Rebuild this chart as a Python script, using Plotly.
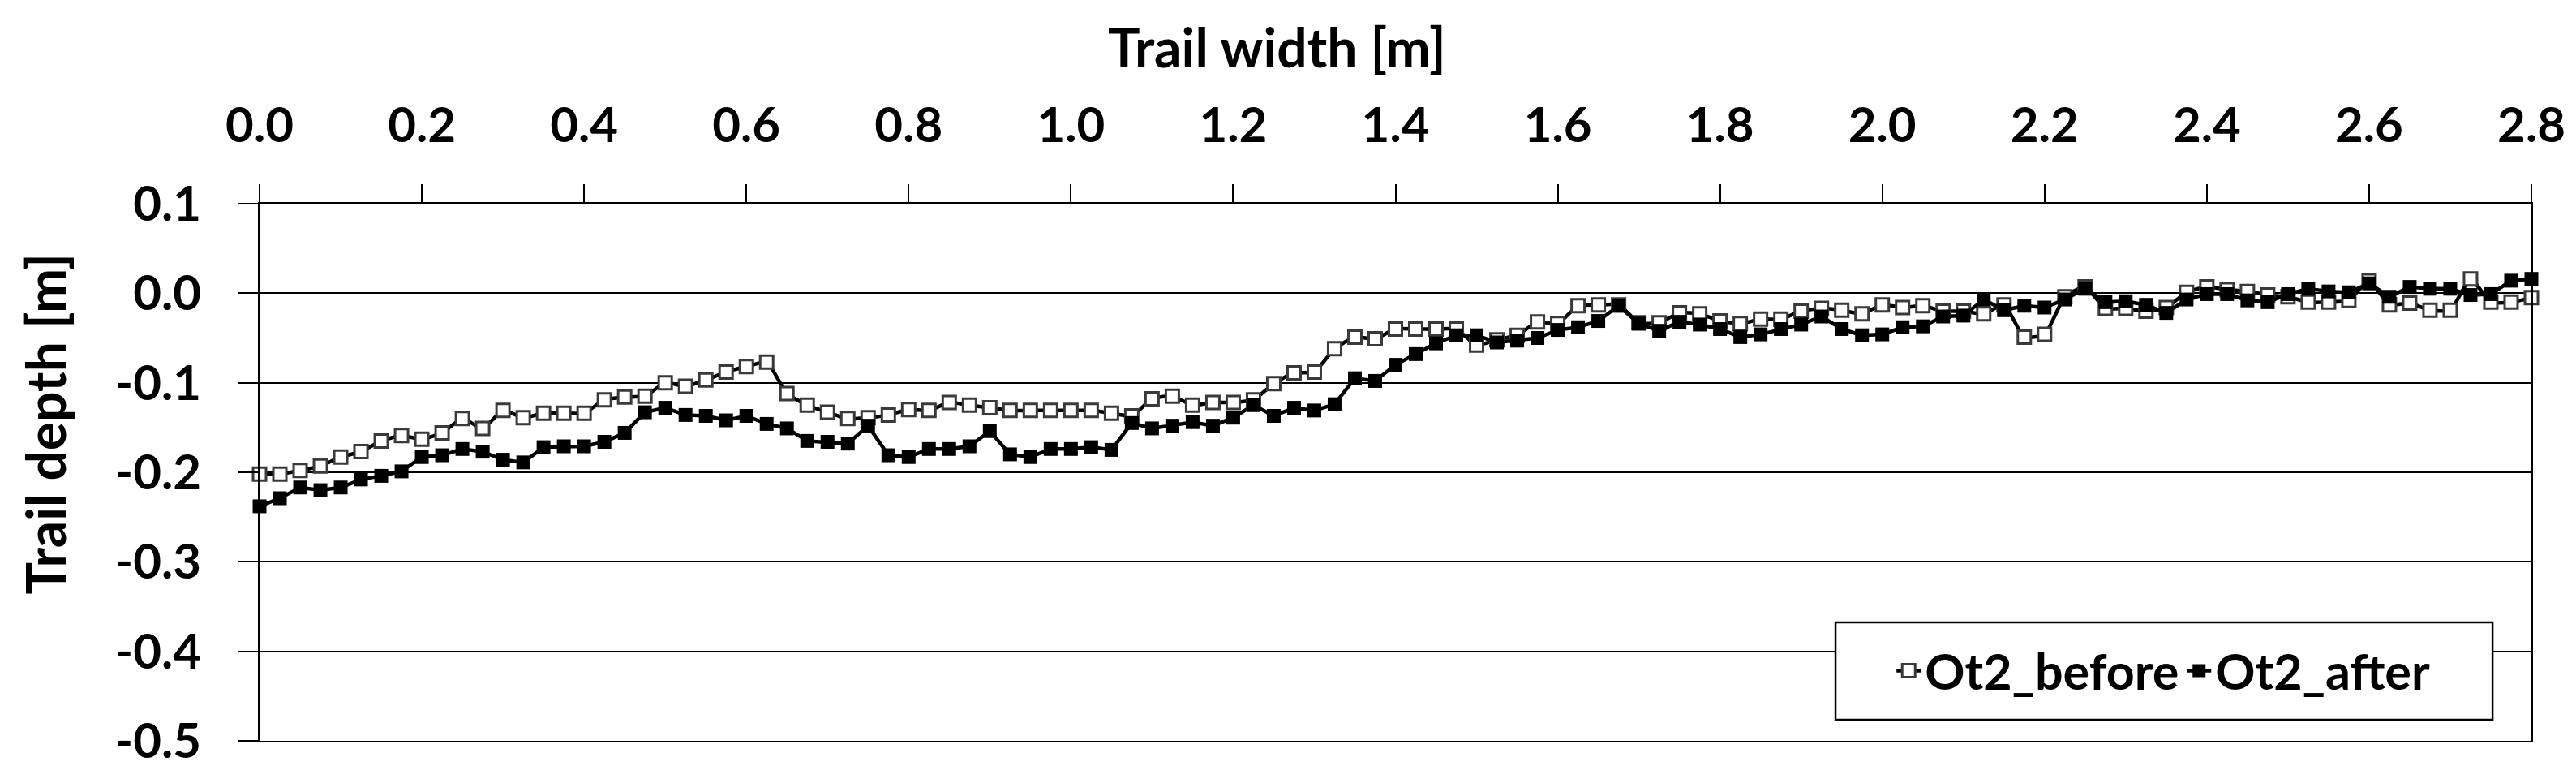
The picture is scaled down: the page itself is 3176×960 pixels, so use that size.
import plotly.graph_objects as go

# ---- data -------------------------------------------------------------
width_m = [0.000, 0.025, 0.050, 0.075, 0.100, 0.125, 0.150, 0.175, 0.200, 0.225,
           0.250, 0.275, 0.300, 0.325, 0.350, 0.375, 0.400, 0.425, 0.450, 0.475,
           0.500, 0.525, 0.550, 0.575, 0.600, 0.625, 0.650, 0.675, 0.700, 0.725,
           0.750, 0.775, 0.800, 0.825, 0.850, 0.875, 0.900, 0.925, 0.950, 0.975,
           1.000, 1.025, 1.050, 1.075, 1.100, 1.125, 1.150, 1.175, 1.200, 1.225,
           1.250, 1.275, 1.300, 1.325, 1.350, 1.375, 1.400, 1.425, 1.450, 1.475,
           1.500, 1.525, 1.550, 1.575, 1.600, 1.625, 1.650, 1.675, 1.700, 1.725,
           1.750, 1.775, 1.800, 1.825, 1.850, 1.875, 1.900, 1.925, 1.950, 1.975,
           2.000, 2.025, 2.050, 2.075, 2.100, 2.125, 2.150, 2.175, 2.200, 2.225,
           2.250, 2.275, 2.300, 2.325, 2.350, 2.375, 2.400, 2.425, 2.450, 2.475,
           2.500, 2.525, 2.550, 2.575, 2.600, 2.625, 2.650, 2.675, 2.700, 2.725,
           2.750, 2.775, 2.800]

ot2_before = [-0.202, -0.202, -0.198, -0.193, -0.183, -0.177, -0.165, -0.159, -0.163, -0.156,
              -0.140, -0.151, -0.131, -0.139, -0.134, -0.134, -0.134, -0.119, -0.116, -0.115,
              -0.100, -0.104, -0.097, -0.088, -0.082, -0.077, -0.112, -0.125, -0.133, -0.140,
              -0.139, -0.136, -0.130, -0.131, -0.122, -0.125, -0.128, -0.131, -0.131, -0.131,
              -0.131, -0.131, -0.134, -0.137, -0.118, -0.115, -0.125, -0.122, -0.122, -0.119,
              -0.101, -0.089, -0.088, -0.062, -0.049, -0.051, -0.040, -0.040, -0.040, -0.040,
              -0.058, -0.052, -0.047, -0.032, -0.034, -0.014, -0.013, -0.013, -0.033, -0.033,
              -0.022, -0.023, -0.031, -0.034, -0.029, -0.029, -0.020, -0.017, -0.019, -0.023,
              -0.013, -0.016, -0.014, -0.020, -0.020, -0.023, -0.013, -0.049, -0.046, -0.004,
              0.007, -0.017, -0.017, -0.020, -0.016, 0.001, 0.007, 0.004, 0.002, -0.002,
              -0.004, -0.010, -0.010, -0.008, 0.014, -0.013, -0.011, -0.019, -0.019, 0.016,
              -0.010, -0.010, -0.005]

ot2_after = [-0.238, -0.229, -0.217, -0.220, -0.217, -0.208, -0.204, -0.199, -0.183, -0.181,
             -0.174, -0.177, -0.186, -0.189, -0.172, -0.171, -0.171, -0.166, -0.156, -0.133,
             -0.128, -0.136, -0.137, -0.142, -0.137, -0.146, -0.151, -0.165, -0.166, -0.168,
             -0.148, -0.181, -0.183, -0.174, -0.174, -0.171, -0.154, -0.180, -0.183, -0.174,
             -0.174, -0.172, -0.175, -0.145, -0.151, -0.148, -0.144, -0.148, -0.139, -0.125,
             -0.137, -0.128, -0.131, -0.124, -0.095, -0.098, -0.080, -0.068, -0.056, -0.047,
             -0.047, -0.055, -0.053, -0.050, -0.041, -0.038, -0.031, -0.014, -0.034, -0.042,
             -0.032, -0.035, -0.040, -0.049, -0.046, -0.040, -0.035, -0.026, -0.040, -0.047,
             -0.046, -0.038, -0.037, -0.026, -0.025, -0.007, -0.019, -0.014, -0.016, -0.007,
             0.005, -0.010, -0.009, -0.013, -0.022, -0.007, -0.001, -0.001, -0.008, -0.010,
             -0.001, 0.005, 0.002, 0.001, 0.011, -0.004, 0.007, 0.005, 0.005, -0.002,
             -0.001, 0.014, 0.016]

x_tick_vals = [0.0, 0.2, 0.4, 0.6, 0.8, 1.0, 1.2, 1.4, 1.6, 1.8, 2.0, 2.2, 2.4, 2.6, 2.8]
x_tick_text = ["0.0", "0.2", "0.4", "0.6", "0.8", "1.0", "1.2", "1.4", "1.6", "1.8",
               "2.0", "2.2", "2.4", "2.6", "2.8"]
y_tick_vals = [0.1, 0.0, -0.1, -0.2, -0.3, -0.4, -0.5]
y_tick_text = ["0.1", "0.0", "-0.1", "-0.2", "-0.3", "-0.4", "-0.5"]

series_names = ["Ot2_before", "Ot2_after"]
x_title = "Trail width [m]"
y_title = "Trail depth [m]"

# ---- figure -----------------------------------------------------------
FONT = "Lato"
fig = go.Figure()
fig.add_trace(go.Scatter(
    x=width_m, y=ot2_before, name=series_names[0], mode="lines+markers",
    line=dict(color="black", width=4.5, shape="spline", smoothing=0.5),
    marker=dict(symbol="square", size=16, color="white",
                line=dict(color="#3a3a3a", width=3)),
    cliponaxis=False,
))
fig.add_trace(go.Scatter(
    x=width_m, y=ot2_after, name=series_names[1], mode="lines+markers",
    line=dict(color="black", width=4.5),
    marker=dict(symbol="square", size=17, color="black"),
    cliponaxis=False,
))

tick_font = dict(family=FONT, size=60, color="black", weight="bold")
title_font = dict(family=FONT, size=66, color="black", weight="bold")

fig.update_layout(
    width=3176, height=960,
    margin=dict(l=312, r=63, t=243, b=55),
    paper_bgcolor="white", plot_bgcolor="white",
    showlegend=True,
    legend=dict(
        orientation="h", x=0.838, xanchor="center", y=0.130, yanchor="middle",
        bgcolor="rgba(0,0,0,0)", borderwidth=0,
        font=dict(family=FONT, size=61, color="black", weight="bold"),
        itemwidth=30, tracegroupgap=0,
    ),
    xaxis=dict(
        side="top", range=[0, 2.8], tickvals=x_tick_vals, ticktext=x_tick_text,
        ticks="outside", ticklen=22, tickwidth=2, tickcolor="black",
        showline=True, linecolor="black", linewidth=2, mirror=True,
        showgrid=False, zeroline=False, tickfont=tick_font,
        ticklabelstandoff=28,
    ),
    yaxis=dict(
        range=[-0.5, 0.1], tickvals=y_tick_vals, ticktext=y_tick_text,
        ticks="outside", ticklen=24, tickwidth=2, tickcolor="black",
        showline=True, linecolor="black", linewidth=2, mirror=True,
        showgrid=True, gridcolor="black", gridwidth=2,
        zeroline=False, tickfont=tick_font,
        ticklabelstandoff=34,
    ),
    shapes=[
        dict(type="rect", xref="paper", yref="paper",
             x0=0.6937, x1=0.9829, y0=0.0393, y1=0.2205,
             fillcolor="white", line=dict(color="black", width=2.5), layer="above"),
    ],
    annotations=[
        dict(text=x_title, xref="paper", yref="paper", x=0.448, y=1.293,
             xanchor="center", yanchor="middle", showarrow=False, font=title_font),
        dict(text=y_title, xref="paper", yref="paper", x=-0.0946, y=0.59,
             xanchor="center", yanchor="middle", showarrow=False, textangle=-90,
             font=title_font),
    ],
)

fig.write_html("out.html")
